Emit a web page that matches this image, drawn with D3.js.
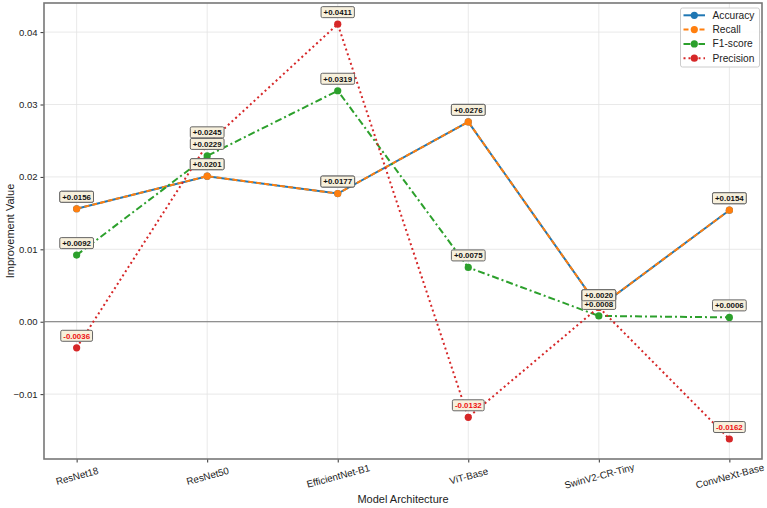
<!DOCTYPE html>
<html><head><meta charset="utf-8">
<script src="https://cdn.jsdelivr.net/npm/d3@7"></script>
<style>body{margin:0;background:#fff}svg{display:block;font-family:"Liberation Sans",Arial,sans-serif}</style>
</head><body><svg id="c" width="767" height="508"></svg>
<script>
const models = ["ResNet18","ResNet50","EfficientNet-B1","ViT-Base","SwinV2-CR-Tiny","ConvNeXt-Base"];
const accuracy  = [0.0156,0.0201,0.0177,0.0276,0.0020,0.0154];
const recall    = [0.0156,0.0201,0.0177,0.0276,0.0020,0.0154];
const f1score   = [0.0092,0.0229,0.0319,0.0075,0.0008,0.0006];
const precision = [-0.0036,0.0245,0.0411,-0.0132,0.0020,-0.0162];
const yTicks = [-0.01,0.00,0.01,0.02,0.03,0.04];

const series = [
  {name:"Accuracy", values:accuracy, color:"#1f77b4", dash:null},
  {name:"Recall", values:recall, color:"#ff7f0e", dash:"5,3"},
  {name:"F1-score", values:f1score, color:"#2ca02c", dash:"7,3,2,3"},
  {name:"Precision", values:precision, color:"#d62728", dash:"2,3"}
];

const svg = d3.select("#c");
const L=44,R=762,T=3,B=459;
const x = d3.scaleLinear().domain([-0.25,5.25]).range([L,R]);
const y = d3.scaleLinear().domain([-0.01896,0.04402]).range([B,T]);

// grid
svg.append("g").selectAll("line").data(yTicks).join("line")
  .attr("x1",L).attr("x2",R).attr("y1",d=>y(d)).attr("y2",d=>y(d))
  .attr("stroke","#e3e3e3").attr("stroke-width",0.8);
svg.append("g").selectAll("line").data(models).join("line")
  .attr("x1",(d,i)=>x(i)).attr("x2",(d,i)=>x(i)).attr("y1",T).attr("y2",B)
  .attr("stroke","#e3e3e3").attr("stroke-width",0.8);

// zero line
svg.append("line").attr("x1",L).attr("x2",R).attr("y1",y(0)).attr("y2",y(0))
  .attr("stroke","#777").attr("stroke-width",1);

// axes
const yAxis = d3.axisLeft(y).tickValues(yTicks).tickFormat(d3.format(".2f")).tickSize(3.5).tickPadding(3);
const gy = svg.append("g").attr("transform",`translate(${L},0)`).call(yAxis);
gy.select(".domain").remove();
gy.selectAll("line").attr("stroke","#333");
gy.selectAll("text").attr("font-size",9.5).attr("fill","#222").attr("font-family","Liberation Sans, Arial, sans-serif");

const xAxis = d3.axisBottom(x).tickValues(d3.range(models.length)).tickFormat(i=>models[i]).tickSize(3.5).tickPadding(3);
const gx = svg.append("g").attr("transform",`translate(0,${B})`).call(xAxis);
gx.select(".domain").remove();
gx.selectAll("line").attr("stroke","#333");
gx.selectAll("text").attr("font-size",9.8).attr("fill","#222").attr("font-family","Liberation Sans, Arial, sans-serif")
  .attr("text-anchor","middle").attr("dy","0.35em").attr("y",0)
  .attr("transform","translate(0,17) rotate(-15)");

// frame
svg.append("rect").attr("x",L).attr("y",T).attr("width",R-L).attr("height",B-T)
  .attr("fill","none").attr("stroke","#777").attr("stroke-width",1.6);

// lines
const line = d3.line().x((d,i)=>x(i)).y(d=>y(d));
series.forEach(s=>{
  svg.append("path").datum(s.values).attr("d",line).attr("fill","none")
    .attr("stroke",s.color).attr("stroke-width",2)
    .attr("stroke-dasharray",s.dash);
  svg.append("g").selectAll("circle").data(s.values).join("circle")
    .attr("cx",(d,i)=>x(i)).attr("cy",d=>y(d)).attr("r",3.6).attr("fill",s.color);
});

// labels
const fmt = v => (v>=0?"+":"")+v.toFixed(4);
series.forEach(s=>{
  s.values.forEach((v,i)=>{
    const g = svg.append("g").attr("transform",`translate(${x(i)},${y(v)-12})`);
    const t = g.append("text").attr("text-anchor","middle").attr("dy","0.35em")
      .attr("font-size",7.9).attr("font-weight","bold")
      .attr("fill", v<0 ? "#ee1111" : "#111").text(fmt(v));
    const w = t.node().getComputedTextLength();
    g.insert("rect","text").attr("x",-w/2-2.5).attr("y",-5.5).attr("width",w+5).attr("height",11)
      .attr("rx",1.5).attr("fill","#f7f0dc").attr("stroke","#666").attr("stroke-width",1);
  });
});

// axis titles
svg.append("text").attr("x",(L+R)/2).attr("y",503).attr("text-anchor","middle")
  .attr("font-size",11).attr("fill","#222").text("Model Architecture");
svg.append("text").attr("transform",`translate(10,${(T+B)/2}) rotate(-90)`).attr("text-anchor","middle")
  .attr("dy","0.35em").attr("font-size",11).attr("fill","#222").text("Improvement Value");

// legend
const lg = svg.append("g").attr("transform","translate(680.5,8)");
lg.append("rect").attr("x",0).attr("y",0).attr("width",79).attr("height",59)
  .attr("rx",2).attr("fill","#fff").attr("fill-opacity",0.9).attr("stroke","#ccc");
series.forEach((s,i)=>{
  const yy = 7.3 + i*14.3;
  lg.append("line").attr("x1",3).attr("x2",24.5).attr("y1",yy).attr("y2",yy)
    .attr("stroke",s.color).attr("stroke-width",2).attr("stroke-dasharray",s.dash);
  lg.append("circle").attr("cx",13.8).attr("cy",yy).attr("r",3.6).attr("fill",s.color);
  lg.append("text").attr("x",32).attr("y",yy).attr("dy","0.35em").attr("font-size",10.2)
    .attr("fill","#222").text(s.name);
});
</script></body></html>
